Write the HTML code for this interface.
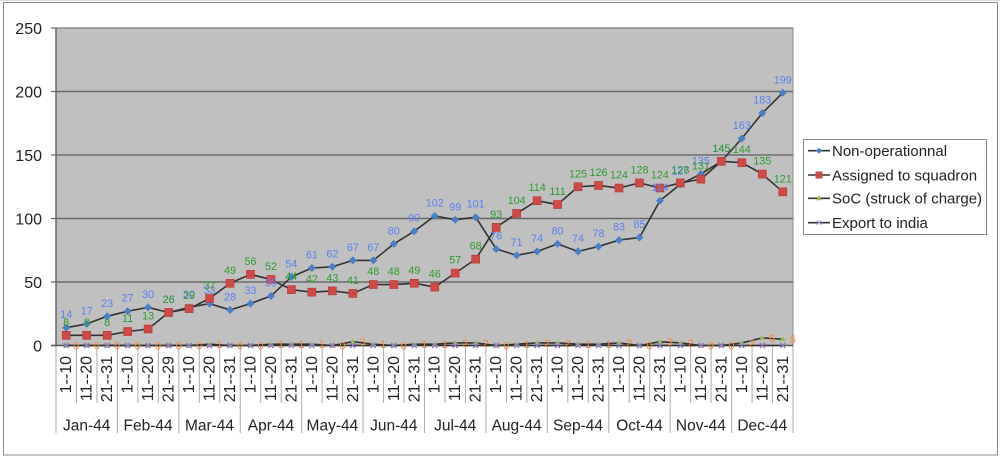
<!DOCTYPE html>
<html>
<head>
<meta charset="utf-8">
<style>
html,body{margin:0;padding:0;background:#fff;}
svg{display:block;}
text{font-family:"Liberation Sans",Arial,sans-serif;}
</style>
</head>
<body>
<svg width="1000" height="457" viewBox="0 0 1000 457" xmlns="http://www.w3.org/2000/svg">
<!-- outside spreadsheet hints -->
<g stroke="#dcdcdc" stroke-width="1">
<line x1="0" y1="0.5" x2="1000" y2="0.5"/>
<line x1="756" y1="0" x2="756" y2="2"/><line x1="808" y1="0" x2="808" y2="2"/><line x1="861" y1="0" x2="861" y2="2"/><line x1="913" y1="0" x2="913" y2="2"/><line x1="966" y1="0" x2="966" y2="2"/>
</g>
<!-- chart frame -->
<rect x="3.5" y="2.5" width="994" height="452.5" fill="#fff" stroke="#8a8a8a" stroke-width="1"/>

<!-- plot area -->
<rect x="56" y="28" width="737" height="317.5" fill="#c0c0c0"/>
<line x1="56" y1="28" x2="793" y2="28" stroke="#8c8c8c" stroke-width="1.5"/>
<line x1="793" y1="28" x2="793" y2="345.5" stroke="#999" stroke-width="1.2"/>
<g stroke="#6a6a6a" stroke-width="1.5">
<line x1="56" y1="91.5" x2="793" y2="91.5"/>
<line x1="56" y1="155" x2="793" y2="155"/>
<line x1="56" y1="218.5" x2="793" y2="218.5"/>
<line x1="56" y1="282" x2="793" y2="282"/>
</g>
<!-- y ticks -->
<g stroke="#666" stroke-width="1.2">
<line x1="51" y1="28" x2="56" y2="28"/>
<line x1="51" y1="91.5" x2="56" y2="91.5"/>
<line x1="51" y1="155" x2="56" y2="155"/>
<line x1="51" y1="218.5" x2="56" y2="218.5"/>
<line x1="51" y1="282" x2="56" y2="282"/>
<line x1="51" y1="345.5" x2="56" y2="345.5"/>
</g>
<g font-size="16" fill="#222" text-anchor="end">
<text x="42" y="33.8">250</text>
<text x="42" y="97.3">200</text>
<text x="42" y="160.8">150</text>
<text x="42" y="224.3">100</text>
<text x="42" y="287.8">50</text>
<text x="42" y="351.3">0</text>
</g>

<!-- category separators -->
<g stroke="#ababab" stroke-width="1">
<line x1="76.47" y1="345.5" x2="76.47" y2="403"/><line x1="96.94" y1="345.5" x2="96.94" y2="403"/>
<line x1="137.89" y1="345.5" x2="137.89" y2="403"/><line x1="158.36" y1="345.5" x2="158.36" y2="403"/>
<line x1="199.31" y1="345.5" x2="199.31" y2="403"/><line x1="219.78" y1="345.5" x2="219.78" y2="403"/>
<line x1="260.72" y1="345.5" x2="260.72" y2="403"/><line x1="281.19" y1="345.5" x2="281.19" y2="403"/>
<line x1="322.14" y1="345.5" x2="322.14" y2="403"/><line x1="342.61" y1="345.5" x2="342.61" y2="403"/>
<line x1="383.56" y1="345.5" x2="383.56" y2="403"/><line x1="404.03" y1="345.5" x2="404.03" y2="403"/>
<line x1="444.97" y1="345.5" x2="444.97" y2="403"/><line x1="465.44" y1="345.5" x2="465.44" y2="403"/>
<line x1="506.39" y1="345.5" x2="506.39" y2="403"/><line x1="526.86" y1="345.5" x2="526.86" y2="403"/>
<line x1="567.81" y1="345.5" x2="567.81" y2="403"/><line x1="588.28" y1="345.5" x2="588.28" y2="403"/>
<line x1="629.22" y1="345.5" x2="629.22" y2="403"/><line x1="649.69" y1="345.5" x2="649.69" y2="403"/>
<line x1="690.64" y1="345.5" x2="690.64" y2="403"/><line x1="711.11" y1="345.5" x2="711.11" y2="403"/>
<line x1="752.06" y1="345.5" x2="752.06" y2="403"/><line x1="772.53" y1="345.5" x2="772.53" y2="403"/>
<line x1="56" y1="345.5" x2="56" y2="433"/>
<line x1="117.42" y1="345.5" x2="117.42" y2="433"/><line x1="178.83" y1="345.5" x2="178.83" y2="433"/>
<line x1="240.25" y1="345.5" x2="240.25" y2="433"/><line x1="301.67" y1="345.5" x2="301.67" y2="433"/>
<line x1="363.08" y1="345.5" x2="363.08" y2="433"/><line x1="424.5" y1="345.5" x2="424.5" y2="433"/>
<line x1="485.92" y1="345.5" x2="485.92" y2="433"/><line x1="547.33" y1="345.5" x2="547.33" y2="433"/>
<line x1="608.75" y1="345.5" x2="608.75" y2="433"/><line x1="670.17" y1="345.5" x2="670.17" y2="433"/>
<line x1="731.58" y1="345.5" x2="731.58" y2="433"/><line x1="793" y1="345.5" x2="793" y2="433"/>
</g>
<line x1="56" y1="28" x2="56" y2="345.5" stroke="#666" stroke-width="1.5"/>
<line x1="51" y1="345.5" x2="793" y2="345.5" stroke="#555" stroke-width="1.5"/>

<!-- category labels -->
<g font-size="16" fill="#222" text-anchor="end">
<text transform="translate(71.2,356) rotate(-90)">1--10</text>
<text transform="translate(91.7,356) rotate(-90)">11--20</text>
<text transform="translate(112.2,356) rotate(-90)">21--31</text>
<text transform="translate(132.6,356) rotate(-90)">1--10</text>
<text transform="translate(153.1,356) rotate(-90)">11--20</text>
<text transform="translate(173.6,356) rotate(-90)">21--29</text>
<text transform="translate(194.1,356) rotate(-90)">1--10</text>
<text transform="translate(214.5,356) rotate(-90)">11--20</text>
<text transform="translate(235.0,356) rotate(-90)">21--31</text>
<text transform="translate(255.5,356) rotate(-90)">1--10</text>
<text transform="translate(276.0,356) rotate(-90)">11--20</text>
<text transform="translate(296.4,356) rotate(-90)">21--31</text>
<text transform="translate(316.9,356) rotate(-90)">1--10</text>
<text transform="translate(337.4,356) rotate(-90)">11--20</text>
<text transform="translate(357.8,356) rotate(-90)">21--31</text>
<text transform="translate(378.3,356) rotate(-90)">1--10</text>
<text transform="translate(398.8,356) rotate(-90)">11--20</text>
<text transform="translate(419.3,356) rotate(-90)">21--31</text>
<text transform="translate(439.7,356) rotate(-90)">1--10</text>
<text transform="translate(460.2,356) rotate(-90)">11--20</text>
<text transform="translate(480.7,356) rotate(-90)">21--31</text>
<text transform="translate(501.2,356) rotate(-90)">1--10</text>
<text transform="translate(521.6,356) rotate(-90)">11--20</text>
<text transform="translate(542.1,356) rotate(-90)">21--31</text>
<text transform="translate(562.6,356) rotate(-90)">1--10</text>
<text transform="translate(583.0,356) rotate(-90)">11--20</text>
<text transform="translate(603.5,356) rotate(-90)">21--31</text>
<text transform="translate(624.0,356) rotate(-90)">1--10</text>
<text transform="translate(644.5,356) rotate(-90)">11--20</text>
<text transform="translate(664.9,356) rotate(-90)">21--31</text>
<text transform="translate(685.4,356) rotate(-90)">1--10</text>
<text transform="translate(705.9,356) rotate(-90)">11--20</text>
<text transform="translate(726.4,356) rotate(-90)">21--31</text>
<text transform="translate(746.8,356) rotate(-90)">1--10</text>
<text transform="translate(767.3,356) rotate(-90)">11--20</text>
<text transform="translate(787.8,356) rotate(-90)">21--31</text>
</g>
<g font-size="15.5" fill="#222" text-anchor="middle">
<text x="86.7" y="430.5">Jan-44</text>
<text x="148.1" y="430.5">Feb-44</text>
<text x="209.5" y="430.5">Mar-44</text>
<text x="271.0" y="430.5">Apr-44</text>
<text x="332.4" y="430.5">May-44</text>
<text x="393.8" y="430.5">Jun-44</text>
<text x="455.2" y="430.5">Jul-44</text>
<text x="516.6" y="430.5">Aug-44</text>
<text x="578.0" y="430.5">Sep-44</text>
<text x="639.5" y="430.5">Oct-44</text>
<text x="700.9" y="430.5">Nov-44</text>
<text x="762.3" y="430.5">Dec-44</text>
</g>

<!-- series lines -->
<g fill="none" stroke="#333" stroke-width="1.6" stroke-linejoin="round">
<polyline points="66.24,327.72 86.71,323.91 107.18,316.29 127.65,311.21 148.12,307.4 168.60,312.48 189.07,307.4 209.54,303.59 230.01,309.94 250.49,303.59 270.96,295.97 291.43,276.92 311.90,268.03 332.38,266.76 352.85,260.41 373.32,260.41 393.79,243.9 414.26,231.2 434.74,215.96 455.21,219.77 475.68,217.23 496.15,248.98 516.63,255.33 537.10,251.52 557.57,243.9 578.04,251.52 598.51,246.44 618.99,240.09 639.46,237.55 659.93,200.72 680.40,184.21 700.88,174.05 721.35,161.35 741.82,138.49 762.29,113.09 782.76,92.77"/>
<polyline points="66.24,335.34 86.71,335.34 107.18,335.34 127.65,331.53 148.12,328.99 168.60,312.48 189.07,308.67 209.54,298.51 230.01,283.27 250.49,274.38 270.96,279.46 291.43,289.62 311.90,292.16 332.38,290.89 352.85,293.43 373.32,284.54 393.79,284.54 414.26,283.27 434.74,287.08 455.21,273.11 475.68,259.14 496.15,227.39 516.63,213.42 537.10,200.72 557.57,204.53 578.04,186.75 598.51,185.48 618.99,188.02 639.46,182.94 659.93,188.02 680.40,182.94 700.88,179.13 721.35,161.35 741.82,162.62 762.29,174.05 782.76,191.83"/>
<polyline points="66.24,345.5 86.71,345.5 107.18,345.5 127.65,345.5 148.12,345.5 168.60,345.5 189.07,345.5 209.54,344.23 230.01,345.5 250.49,345.5 270.96,344.23 291.43,344.23 311.90,344.23 332.38,345.5 352.85,341.69 373.32,344.23 393.79,345.5 414.26,344.23 434.74,344.23 455.21,342.96 475.68,342.96 496.15,345.5 516.63,344.23 537.10,342.96 557.57,342.96 578.04,344.23 598.51,344.23 618.99,342.96 639.46,345.5 659.93,341.69 680.40,342.96 700.88,345.5 721.35,345.5 741.82,342.96 762.29,337.88 782.76,339.15"/>
<polyline points="66.24,345.5 782.76,345.5"/>
</g>

<!-- blue diamonds -->
<g fill="#4a7fc6">
<path d="M66.24,323.72l4,4l-4,4l-4,-4z"/><path d="M86.71,319.91l4,4l-4,4l-4,-4z"/><path d="M107.18,312.29l4,4l-4,4l-4,-4z"/><path d="M127.65,307.21l4,4l-4,4l-4,-4z"/><path d="M148.12,303.4l4,4l-4,4l-4,-4z"/><path d="M168.60,308.48l4,4l-4,4l-4,-4z"/><path d="M189.07,303.4l4,4l-4,4l-4,-4z"/><path d="M209.54,299.59l4,4l-4,4l-4,-4z"/><path d="M230.01,305.94l4,4l-4,4l-4,-4z"/><path d="M250.49,299.59l4,4l-4,4l-4,-4z"/><path d="M270.96,291.97l4,4l-4,4l-4,-4z"/><path d="M291.43,272.92l4,4l-4,4l-4,-4z"/><path d="M311.90,264.03l4,4l-4,4l-4,-4z"/><path d="M332.38,262.76l4,4l-4,4l-4,-4z"/><path d="M352.85,256.41l4,4l-4,4l-4,-4z"/><path d="M373.32,256.41l4,4l-4,4l-4,-4z"/><path d="M393.79,239.9l4,4l-4,4l-4,-4z"/><path d="M414.26,227.2l4,4l-4,4l-4,-4z"/><path d="M434.74,211.96l4,4l-4,4l-4,-4z"/><path d="M455.21,215.77l4,4l-4,4l-4,-4z"/><path d="M475.68,213.23l4,4l-4,4l-4,-4z"/><path d="M496.15,244.98l4,4l-4,4l-4,-4z"/><path d="M516.63,251.33l4,4l-4,4l-4,-4z"/><path d="M537.10,247.52l4,4l-4,4l-4,-4z"/><path d="M557.57,239.9l4,4l-4,4l-4,-4z"/><path d="M578.04,247.52l4,4l-4,4l-4,-4z"/><path d="M598.51,242.44l4,4l-4,4l-4,-4z"/><path d="M618.99,236.09l4,4l-4,4l-4,-4z"/><path d="M639.46,233.55l4,4l-4,4l-4,-4z"/><path d="M659.93,196.72l4,4l-4,4l-4,-4z"/><path d="M680.40,180.21l4,4l-4,4l-4,-4z"/><path d="M700.88,170.05l4,4l-4,4l-4,-4z"/><path d="M721.35,157.35l4,4l-4,4l-4,-4z"/><path d="M741.82,134.49l4,4l-4,4l-4,-4z"/><path d="M762.29,109.09l4,4l-4,4l-4,-4z"/><path d="M782.76,88.77l4,4l-4,4l-4,-4z"/>
</g>

<!-- red squares -->
<g fill="#cf4a47" stroke="#b03a38" stroke-width="0.6">
<rect x="62.24" y="331.34" width="8" height="8"/><rect x="82.71" y="331.34" width="8" height="8"/><rect x="103.18" y="331.34" width="8" height="8"/><rect x="123.65" y="327.53" width="8" height="8"/><rect x="144.12" y="324.99" width="8" height="8"/><rect x="164.60" y="308.48" width="8" height="8"/><rect x="185.07" y="304.67" width="8" height="8"/><rect x="205.54" y="294.51" width="8" height="8"/><rect x="226.01" y="279.27" width="8" height="8"/><rect x="246.49" y="270.38" width="8" height="8"/><rect x="266.96" y="275.46" width="8" height="8"/><rect x="287.43" y="285.62" width="8" height="8"/><rect x="307.90" y="288.16" width="8" height="8"/><rect x="328.38" y="286.89" width="8" height="8"/><rect x="348.85" y="289.43" width="8" height="8"/><rect x="369.32" y="280.54" width="8" height="8"/><rect x="389.79" y="280.54" width="8" height="8"/><rect x="410.26" y="279.27" width="8" height="8"/><rect x="430.74" y="283.08" width="8" height="8"/><rect x="451.21" y="269.11" width="8" height="8"/><rect x="471.68" y="255.14" width="8" height="8"/><rect x="492.15" y="223.39" width="8" height="8"/><rect x="512.63" y="209.42" width="8" height="8"/><rect x="533.10" y="196.72" width="8" height="8"/><rect x="553.57" y="200.53" width="8" height="8"/><rect x="574.04" y="182.75" width="8" height="8"/><rect x="594.51" y="181.48" width="8" height="8"/><rect x="614.99" y="184.02" width="8" height="8"/><rect x="635.46" y="178.94" width="8" height="8"/><rect x="655.93" y="184.02" width="8" height="8"/><rect x="676.40" y="178.94" width="8" height="8"/><rect x="696.88" y="175.13" width="8" height="8"/><rect x="717.35" y="157.35" width="8" height="8"/><rect x="737.82" y="158.62" width="8" height="8"/><rect x="758.29" y="170.05" width="8" height="8"/><rect x="778.76" y="187.83" width="8" height="8"/>
</g>

<!-- green triangles (SoC) -->
<g fill="#9bbb59">
<path d="M66.24,342.5l3,5h-6z"/><path d="M86.71,342.5l3,5h-6z"/><path d="M107.18,342.5l3,5h-6z"/><path d="M127.65,342.5l3,5h-6z"/><path d="M148.12,342.5l3,5h-6z"/><path d="M168.60,342.5l3,5h-6z"/><path d="M189.07,342.5l3,5h-6z"/><path d="M209.54,341.23l3,5h-6z"/><path d="M230.01,342.5l3,5h-6z"/><path d="M250.49,342.5l3,5h-6z"/><path d="M270.96,341.23l3,5h-6z"/><path d="M291.43,341.23l3,5h-6z"/><path d="M311.90,341.23l3,5h-6z"/><path d="M332.38,342.5l3,5h-6z"/><path d="M352.85,338.69l3,5h-6z"/><path d="M373.32,341.23l3,5h-6z"/><path d="M393.79,342.5l3,5h-6z"/><path d="M414.26,341.23l3,5h-6z"/><path d="M434.74,341.23l3,5h-6z"/><path d="M455.21,339.96l3,5h-6z"/><path d="M475.68,339.96l3,5h-6z"/><path d="M496.15,342.5l3,5h-6z"/><path d="M516.63,341.23l3,5h-6z"/><path d="M537.10,339.96l3,5h-6z"/><path d="M557.57,339.96l3,5h-6z"/><path d="M578.04,341.23l3,5h-6z"/><path d="M598.51,341.23l3,5h-6z"/><path d="M618.99,339.96l3,5h-6z"/><path d="M639.46,342.5l3,5h-6z"/><path d="M659.93,338.69l3,5h-6z"/><path d="M680.40,339.96l3,5h-6z"/><path d="M700.88,342.5l3,5h-6z"/><path d="M721.35,342.5l3,5h-6z"/><path d="M741.82,339.96l3,5h-6z"/><path d="M762.29,334.88l3,5h-6z"/><path d="M782.76,336.15l3,5h-6z"/>
</g>

<!-- purple x (Export) -->
<g stroke="#8f74c4" stroke-width="1.3">
<path d="M63.7,343l5,5M68.7,343l-5,5"/><path d="M84.2,343l5,5M89.2,343l-5,5"/><path d="M104.7,343l5,5M109.7,343l-5,5"/><path d="M125.1,343l5,5M130.1,343l-5,5"/><path d="M145.6,343l5,5M150.6,343l-5,5"/><path d="M166.1,343l5,5M171.1,343l-5,5"/><path d="M186.6,343l5,5M191.6,343l-5,5"/><path d="M207.0,343l5,5M212.0,343l-5,5"/><path d="M227.5,343l5,5M232.5,343l-5,5"/><path d="M248.0,343l5,5M253.0,343l-5,5"/><path d="M268.5,343l5,5M273.5,343l-5,5"/><path d="M288.9,343l5,5M293.9,343l-5,5"/><path d="M309.4,343l5,5M314.4,343l-5,5"/><path d="M329.9,343l5,5M334.9,343l-5,5"/><path d="M350.3,343l5,5M355.3,343l-5,5"/><path d="M370.8,343l5,5M375.8,343l-5,5"/><path d="M391.3,343l5,5M396.3,343l-5,5"/><path d="M411.8,343l5,5M416.8,343l-5,5"/><path d="M432.2,343l5,5M437.2,343l-5,5"/><path d="M452.7,343l5,5M457.7,343l-5,5"/><path d="M473.2,343l5,5M478.2,343l-5,5"/><path d="M493.7,343l5,5M498.7,343l-5,5"/><path d="M514.1,343l5,5M519.1,343l-5,5"/><path d="M534.6,343l5,5M539.6,343l-5,5"/><path d="M555.1,343l5,5M560.1,343l-5,5"/><path d="M575.5,343l5,5M580.5,343l-5,5"/><path d="M596.0,343l5,5M601.0,343l-5,5"/><path d="M616.5,343l5,5M621.5,343l-5,5"/><path d="M637.0,343l5,5M642.0,343l-5,5"/><path d="M657.4,343l5,5M662.4,343l-5,5"/><path d="M677.9,343l5,5M682.9,343l-5,5"/><path d="M698.4,343l5,5M703.4,343l-5,5"/><path d="M718.9,343l5,5M723.9,343l-5,5"/><path d="M739.3,343l5,5M744.3,343l-5,5"/><path d="M759.8,343l5,5M764.8,343l-5,5"/><path d="M780.3,343l5,5M785.3,343l-5,5"/>
</g>

<!-- blue labels -->
<g font-size="10.8" fill="#5a80f2" text-anchor="middle">
<text x="66.24" y="318.2">14</text><text x="86.71" y="314.4">17</text><text x="107.18" y="306.8">23</text><text x="127.65" y="301.7">27</text><text x="148.12" y="297.9">30</text><text x="168.60" y="303.0">26</text><text x="189.07" y="297.9">30</text><text x="209.54" y="294.1">33</text><text x="230.01" y="300.4">28</text><text x="250.49" y="294.1">33</text><text x="270.96" y="286.5">39</text><text x="291.43" y="267.4">54</text><text x="311.90" y="258.5">61</text><text x="332.38" y="257.3">62</text><text x="352.85" y="250.9">67</text><text x="373.32" y="250.9">67</text><text x="393.79" y="234.4">80</text><text x="414.26" y="221.7">90</text><text x="434.74" y="206.5">102</text><text x="455.21" y="210.3">99</text><text x="475.68" y="207.7">101</text><text x="496.15" y="239.5">76</text><text x="516.63" y="245.8">71</text><text x="537.10" y="242.0">74</text><text x="557.57" y="234.4">80</text><text x="578.04" y="242.0">74</text><text x="598.51" y="236.9">78</text><text x="618.99" y="230.6">83</text><text x="639.46" y="228.1">85</text><text x="659.93" y="191.2">114</text><text x="680.40" y="174.7">127</text><text x="700.88" y="164.6">135</text><text x="721.35" y="151.9">145</text><text x="741.82" y="129.0">163</text><text x="762.29" y="103.6">183</text><text x="782.76" y="83.3">199</text>
</g>
<!-- green labels (Assigned) -->
<g font-size="10.8" fill="#2f9a2f" text-anchor="middle">
<text x="66.24" y="325.8">8</text><text x="86.71" y="325.8">8</text><text x="107.18" y="325.8">8</text><text x="127.65" y="322.0">11</text><text x="148.12" y="319.5">13</text><text x="168.60" y="303.0">26</text><text x="189.07" y="299.2">29</text><text x="209.54" y="289.0">37</text><text x="230.01" y="273.8">49</text><text x="250.49" y="264.9">56</text><text x="270.96" y="270.0">52</text><text x="291.43" y="280.1">44</text><text x="311.90" y="282.7">42</text><text x="332.38" y="281.4">43</text><text x="352.85" y="283.9">41</text><text x="373.32" y="275.0">48</text><text x="393.79" y="275.0">48</text><text x="414.26" y="273.8">49</text><text x="434.74" y="277.6">46</text><text x="455.21" y="263.6">57</text><text x="475.68" y="249.6">68</text><text x="496.15" y="217.9">93</text><text x="516.63" y="203.9">104</text><text x="537.10" y="191.2">114</text><text x="557.57" y="195.0">111</text><text x="578.04" y="177.3">125</text><text x="598.51" y="176.0">126</text><text x="618.99" y="178.5">124</text><text x="639.46" y="173.4">128</text><text x="659.93" y="178.5">124</text><text x="680.40" y="173.4">128</text><text x="700.88" y="169.6">131</text><text x="721.35" y="151.9">145</text><text x="741.82" y="153.1">144</text><text x="762.29" y="164.6">135</text><text x="782.76" y="182.3">121</text>
</g>
<!-- orange labels (SoC) -->
<g font-size="10.8" fill="#f7883a">
<text x="73.2" y="349.5">0</text><text x="93.7" y="349.5">0</text><text x="114.2" y="349.5">0</text><text x="134.6" y="349.5">0</text><text x="155.1" y="349.5">0</text><text x="175.6" y="349.5">0</text><text x="196.1" y="349.5">0</text><text x="216.5" y="348.2">1</text><text x="237.0" y="349.5">0</text><text x="257.5" y="349.5">0</text><text x="278.0" y="348.2">1</text><text x="298.4" y="348.2">1</text><text x="318.9" y="348.2">1</text><text x="339.4" y="349.5">0</text><text x="359.8" y="345.7">3</text><text x="380.3" y="348.2">1</text><text x="400.8" y="349.5">0</text><text x="421.3" y="348.2">1</text><text x="441.7" y="348.2">1</text><text x="462.2" y="347.0">2</text><text x="482.7" y="347.0">2</text><text x="503.2" y="349.5">0</text><text x="523.6" y="348.2">1</text><text x="544.1" y="347.0">2</text><text x="564.6" y="347.0">2</text><text x="585.0" y="348.2">1</text><text x="605.5" y="348.2">1</text><text x="626.0" y="347.0">2</text><text x="646.5" y="349.5">0</text><text x="666.9" y="345.7">3</text><text x="687.4" y="347.0">2</text><text x="707.9" y="349.5">0</text><text x="728.4" y="349.5">0</text><text x="748.8" y="347.0">2</text><text x="769.3" y="341.9">6</text><text x="789.8" y="343.2">5</text>
</g>

<!-- legend -->
<rect x="803.5" y="139.5" width="183" height="95" fill="#fff" stroke="#8a8a8a" stroke-width="1"/>
<g stroke="#333" stroke-width="1.6">
<line x1="808" y1="150.7" x2="830" y2="150.7"/>
<line x1="808" y1="175" x2="830" y2="175"/>
<line x1="808" y1="198.3" x2="830" y2="198.3"/>
<line x1="808" y1="222.7" x2="830" y2="222.7"/>
</g>
<path d="M819,147.7l3,3l-3,3l-3,-3z" fill="#4a7fc6"/>
<rect x="815.5" y="171.5" width="7" height="7" fill="#cf4a47"/>
<path d="M819,195.3l3,5h-6z" fill="#9bbb59"/>
<path d="M816.7,220.4l4.6,4.6M821.3,220.4l-4.6,4.6" stroke="#b7a6dc" stroke-width="1.1"/>
<g font-size="15" fill="#222">
<text x="832" y="156">Non-operationnal</text>
<text x="832" y="180.3">Assigned to squadron</text>
<text x="832" y="203.6">SoC (struck of charge)</text>
<text x="832" y="228">Export to india</text>
</g>
</svg>
</body>
</html>
